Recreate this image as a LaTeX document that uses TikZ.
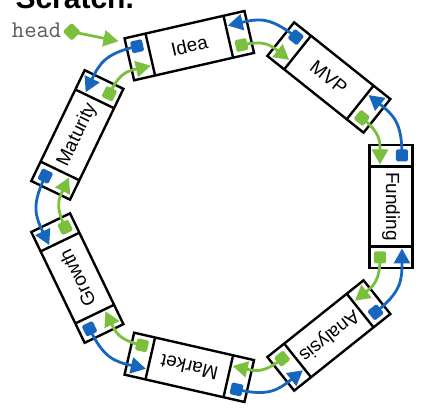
\documentclass[tikz,border=0pt]{standalone}
\usepackage{fontspec}
\setmainfont{Liberation Sans}
\usetikzlibrary{arrows.meta,shapes.geometric}
\definecolor{lgreen}{RGB}{122,192,60}
\definecolor{lblue}{RGB}{22,102,190}
\definecolor{headgray}{RGB}{90,90,90}
\tikzset{
  listbox/.style={draw=black, line width=2.4pt, minimum width=123pt, minimum height=43pt,
    inner sep=0pt, fill=white, font=\fontsize{19}{20}\selectfont},
  divider/.style={line width=2.4pt},
  gsq/.style={fill=lgreen, minimum size=12pt, inner sep=0pt, rounded corners=1.5pt},
  bsq/.style={fill=lblue, minimum size=12pt, inner sep=0pt, rounded corners=1.5pt},
  garrow/.style={draw=lgreen, line width=2.8pt, -{Triangle[length=15pt,width=16pt]}},
  barrow/.style={draw=lblue, line width=2.8pt, -{Triangle[length=15pt,width=16pt]}},
  headdia/.style={diamond, fill=lgreen, minimum size=18pt, inner sep=0pt, rounded corners=1.5pt},
}
\newcommand\mklistnode[3]{%
  \node[listbox, rotate=#2-90] (#1) at (#2:165) {#3};
  \begin{scope}[shift={(#1.center)}, rotate=#2-90]
    \draw[divider] (-40,21.5) -- (-40,-21.5) (40,21.5) -- (40,-21.5);
    \coordinate (#1-bs) at (-51,11);
    \coordinate (#1-gs) at (51,-11);
    \coordinate (#1-gt) at (-42,-11);
    \coordinate (#1-bt) at (42,11);
    \coordinate (#1-in) at (-68,20);
  \end{scope}}
\newcommand\mksquares[2]{%
  \node[bsq, rotate=#2-90] (#1-bsq) at (#1-bs) {};
  \node[gsq, rotate=#2-90] (#1-gsq) at (#1-gs) {};}
\newcommand\mklinks[4]{%
  \draw[garrow] (#1-gsq.center) to[out=#2-90, in=#4+90, looseness=1.2] (#3-gt);
  \draw[barrow] (#3-bsq.center) to[out=#4+90, in=#2-90, looseness=1.2] (#1-bt);}
\begin{document}
\begin{tikzpicture}[x=1pt, y=1pt]
\fill[white] (-226,-208.5) rectangle (195,206.5);
\useasboundingbox (-226,-208.5) rectangle (195,206.5);
\node[anchor=base west, font=\bfseries\fontsize{30}{30}\selectfont] (title) at (-214,197.5) {Scratch.};
\mklistnode{Idea}{102.857}{Idea}
\mklistnode{MVP}{51.429}{MVP}
\mklistnode{Funding}{0}{Funding}
\mklistnode{Analysis}{-51.429}{Analysis}
\mklistnode{Market}{-102.857}{Market}
\mklistnode{Growth}{-154.286}{Growth}
\mklistnode{Maturity}{-205.714}{Maturity}
\mksquares{Idea}{102.857}
\mksquares{MVP}{51.429}
\mksquares{Funding}{0}
\mksquares{Analysis}{-51.429}
\mksquares{Market}{-102.857}
\mksquares{Growth}{-154.286}
\mksquares{Maturity}{-205.714}
\mklinks{Idea}{102.857}{MVP}{51.429}
\mklinks{MVP}{51.429}{Funding}{0}
\mklinks{Funding}{0}{Analysis}{-51.429}
\mklinks{Analysis}{-51.429}{Market}{-102.857}
\mklinks{Market}{-102.857}{Growth}{-154.286}
\mklinks{Growth}{-154.286}{Maturity}{-205.714}
\mklinks{Maturity}{-205.714}{Idea}{-257.143}
\node[anchor=base west, text=headgray, inner sep=0pt, font=\ttfamily\fontsize{24}{24}\selectfont] (headlbl) at (-214.3,169.2) {head};
\node[headdia] (hd) at (-154.3,174.8) {};
\draw[garrow] (hd.center) -- (Idea-in);
\end{tikzpicture}
\end{document}
